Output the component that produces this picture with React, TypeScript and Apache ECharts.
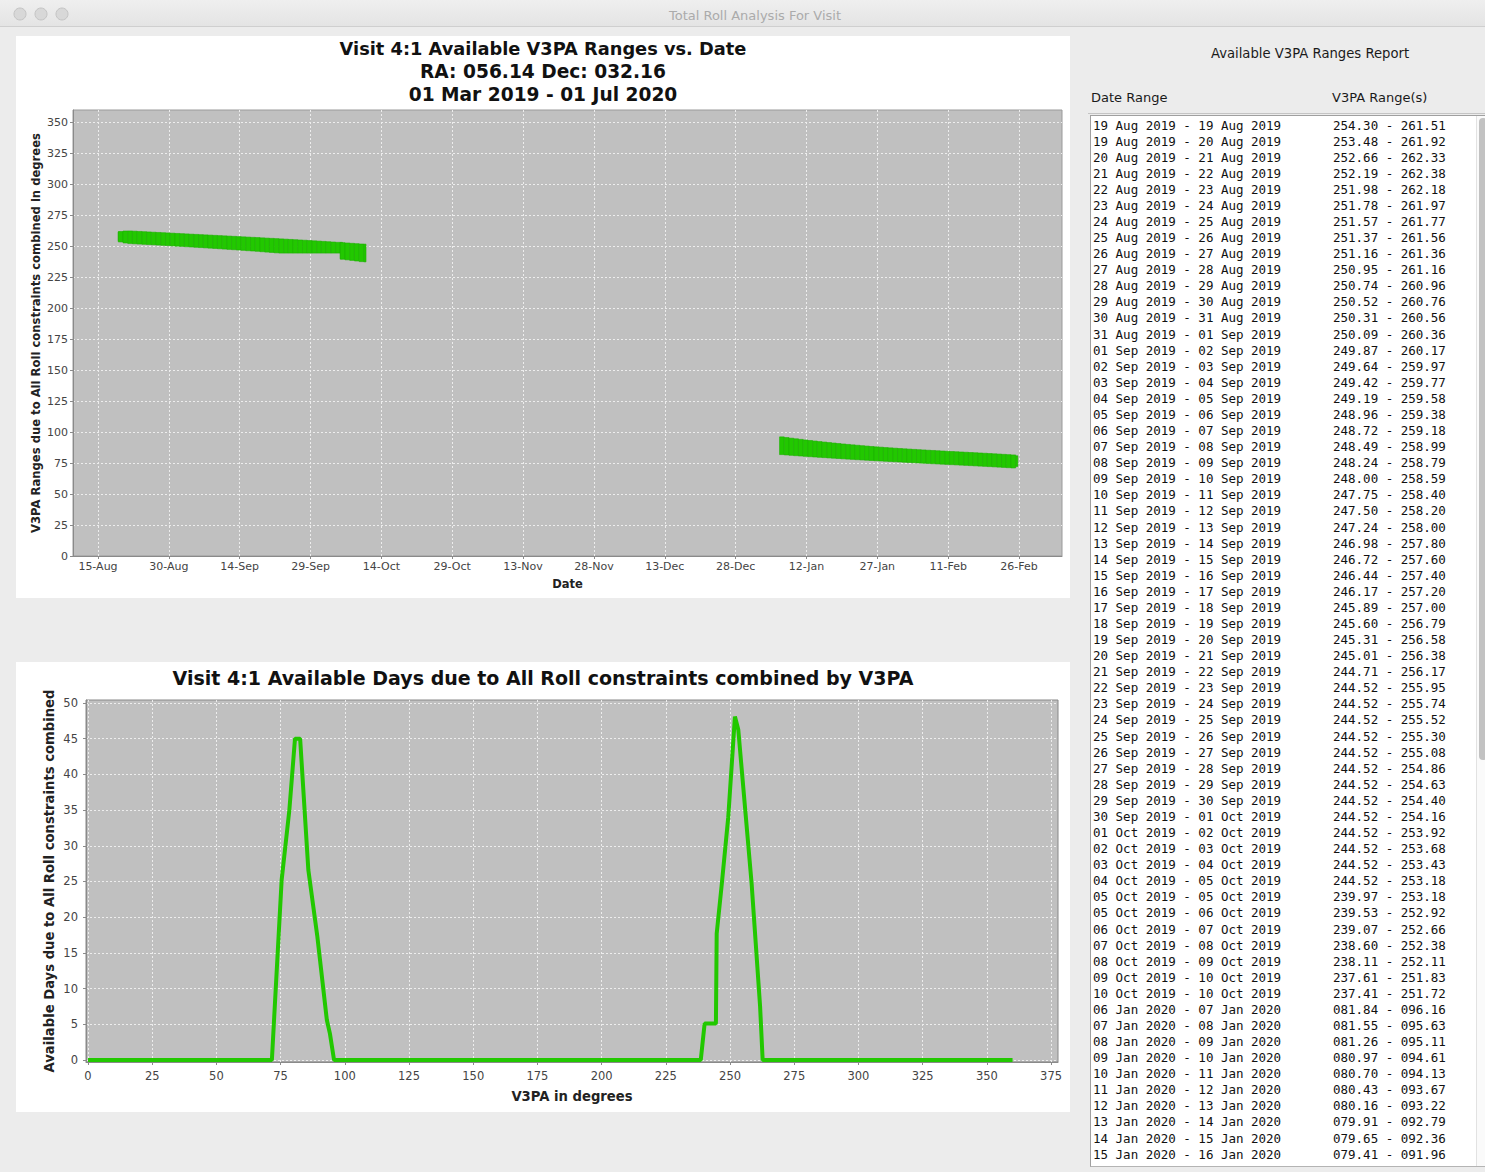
import React, { useEffect, useRef } from "react";
import * as echarts from "echarts";

const W = 1485;
const H = 1172;
const MONTHS = ["Jan", "Feb", "Mar", "Apr", "May", "Jun", "Jul", "Aug", "Sep", "Oct", "Nov", "Dec"];

// ---------- data: Available V3PA ranges per date window ----------
const rangeStart: string[] = [
  "19 Aug 2019", "19 Aug 2019", "20 Aug 2019", "21 Aug 2019", "22 Aug 2019", "23 Aug 2019", "24 Aug 2019",
  "25 Aug 2019", "26 Aug 2019", "27 Aug 2019", "28 Aug 2019", "29 Aug 2019", "30 Aug 2019", "31 Aug 2019",
  "01 Sep 2019", "02 Sep 2019", "03 Sep 2019", "04 Sep 2019", "05 Sep 2019", "06 Sep 2019", "07 Sep 2019",
  "08 Sep 2019", "09 Sep 2019", "10 Sep 2019", "11 Sep 2019", "12 Sep 2019", "13 Sep 2019", "14 Sep 2019",
  "15 Sep 2019", "16 Sep 2019", "17 Sep 2019", "18 Sep 2019", "19 Sep 2019", "20 Sep 2019", "21 Sep 2019",
  "22 Sep 2019", "23 Sep 2019", "24 Sep 2019", "25 Sep 2019", "26 Sep 2019", "27 Sep 2019", "28 Sep 2019",
  "29 Sep 2019", "30 Sep 2019", "01 Oct 2019", "02 Oct 2019", "03 Oct 2019", "04 Oct 2019", "05 Oct 2019",
  "05 Oct 2019", "06 Oct 2019", "07 Oct 2019", "08 Oct 2019", "09 Oct 2019", "10 Oct 2019",
  "06 Jan 2020", "07 Jan 2020", "08 Jan 2020", "09 Jan 2020", "10 Jan 2020", "11 Jan 2020", "12 Jan 2020",
  "13 Jan 2020", "14 Jan 2020", "15 Jan 2020", "16 Jan 2020", "17 Jan 2020", "18 Jan 2020", "19 Jan 2020",
  "20 Jan 2020", "21 Jan 2020", "22 Jan 2020", "23 Jan 2020", "24 Jan 2020", "25 Jan 2020", "26 Jan 2020",
  "27 Jan 2020", "28 Jan 2020", "29 Jan 2020", "30 Jan 2020", "31 Jan 2020", "01 Feb 2020", "02 Feb 2020",
  "03 Feb 2020", "04 Feb 2020", "05 Feb 2020", "06 Feb 2020", "07 Feb 2020", "08 Feb 2020", "09 Feb 2020",
  "10 Feb 2020", "11 Feb 2020", "12 Feb 2020", "13 Feb 2020", "14 Feb 2020", "15 Feb 2020", "16 Feb 2020",
  "17 Feb 2020", "18 Feb 2020", "19 Feb 2020", "20 Feb 2020", "21 Feb 2020", "22 Feb 2020", "23 Feb 2020",
  "24 Feb 2020", "25 Feb 2020",
];
const rangeEnd: string[] = [
  "19 Aug 2019", "20 Aug 2019", "21 Aug 2019", "22 Aug 2019", "23 Aug 2019", "24 Aug 2019", "25 Aug 2019",
  "26 Aug 2019", "27 Aug 2019", "28 Aug 2019", "29 Aug 2019", "30 Aug 2019", "31 Aug 2019", "01 Sep 2019",
  "02 Sep 2019", "03 Sep 2019", "04 Sep 2019", "05 Sep 2019", "06 Sep 2019", "07 Sep 2019", "08 Sep 2019",
  "09 Sep 2019", "10 Sep 2019", "11 Sep 2019", "12 Sep 2019", "13 Sep 2019", "14 Sep 2019", "15 Sep 2019",
  "16 Sep 2019", "17 Sep 2019", "18 Sep 2019", "19 Sep 2019", "20 Sep 2019", "21 Sep 2019", "22 Sep 2019",
  "23 Sep 2019", "24 Sep 2019", "25 Sep 2019", "26 Sep 2019", "27 Sep 2019", "28 Sep 2019", "29 Sep 2019",
  "30 Sep 2019", "01 Oct 2019", "02 Oct 2019", "03 Oct 2019", "04 Oct 2019", "05 Oct 2019", "05 Oct 2019",
  "06 Oct 2019", "07 Oct 2019", "08 Oct 2019", "09 Oct 2019", "10 Oct 2019", "10 Oct 2019",
  "07 Jan 2020", "08 Jan 2020", "09 Jan 2020", "10 Jan 2020", "11 Jan 2020", "12 Jan 2020", "13 Jan 2020",
  "14 Jan 2020", "15 Jan 2020", "16 Jan 2020", "17 Jan 2020", "18 Jan 2020", "19 Jan 2020", "20 Jan 2020",
  "21 Jan 2020", "22 Jan 2020", "23 Jan 2020", "24 Jan 2020", "25 Jan 2020", "26 Jan 2020", "27 Jan 2020",
  "28 Jan 2020", "29 Jan 2020", "30 Jan 2020", "31 Jan 2020", "01 Feb 2020", "02 Feb 2020", "03 Feb 2020",
  "04 Feb 2020", "05 Feb 2020", "06 Feb 2020", "07 Feb 2020", "08 Feb 2020", "09 Feb 2020", "10 Feb 2020",
  "11 Feb 2020", "12 Feb 2020", "13 Feb 2020", "14 Feb 2020", "15 Feb 2020", "16 Feb 2020", "17 Feb 2020",
  "18 Feb 2020", "19 Feb 2020", "20 Feb 2020", "21 Feb 2020", "22 Feb 2020", "23 Feb 2020", "24 Feb 2020",
  "25 Feb 2020", "25 Feb 2020",
];
const v3paLow: number[] = [
  254.30, 253.48, 252.66, 252.19, 251.98, 251.78, 251.57, 251.37, 251.16, 250.95, 250.74, 250.52, 250.31, 250.09,
  249.87, 249.64, 249.42, 249.19, 248.96, 248.72, 248.49, 248.24, 248.00, 247.75, 247.50, 247.24, 246.98, 246.72,
  246.44, 246.17, 245.89, 245.60, 245.31, 245.01, 244.71, 244.52, 244.52, 244.52, 244.52, 244.52, 244.52, 244.52,
  244.52, 244.52, 244.52, 244.52, 244.52, 244.52, 239.97, 239.53, 239.07, 238.60, 238.11, 237.61, 237.41,
  81.84, 81.55, 81.26, 80.97, 80.70, 80.43, 80.16, 79.91, 79.65, 79.41, 79.16, 78.92, 78.68, 78.44, 78.21,
  77.98, 77.75, 77.53, 77.31, 77.09, 76.88, 76.67, 76.46, 76.25, 76.05, 75.85, 75.65, 75.45, 75.25, 75.06,
  74.87, 74.68, 74.49, 74.30, 74.11, 73.92, 73.73, 73.54, 73.35, 73.16, 72.96, 72.76, 72.56, 72.36, 72.15,
  71.94, 71.73, 71.51, 71.29, 71.06, 72.31,
];
const v3paHigh: number[] = [
  261.51, 261.92, 262.33, 262.38, 262.18, 261.97, 261.77, 261.56, 261.36, 261.16, 260.96, 260.76, 260.56, 260.36,
  260.17, 259.97, 259.77, 259.58, 259.38, 259.18, 258.99, 258.79, 258.59, 258.40, 258.20, 258.00, 257.80, 257.60,
  257.40, 257.20, 257.00, 256.79, 256.58, 256.38, 256.17, 255.95, 255.74, 255.52, 255.30, 255.08, 254.86, 254.63,
  254.40, 254.16, 253.92, 253.68, 253.43, 253.18, 253.18, 252.92, 252.66, 252.38, 252.11, 251.83, 251.72,
  96.16, 95.63, 95.11, 94.61, 94.13, 93.67, 93.22, 92.79, 92.36, 91.96, 91.56, 91.17, 90.79, 90.42, 90.06,
  89.71, 89.37, 89.04, 88.72, 88.41, 88.11, 87.82, 87.54, 87.27, 87.01, 86.76, 86.51, 86.27, 86.04, 85.81,
  85.59, 85.37, 85.16, 84.95, 84.74, 84.54, 84.34, 84.14, 83.94, 83.74, 83.54, 83.34, 83.13, 82.92, 82.71,
  82.49, 82.27, 82.04, 81.81, 81.57, 80.85,
];
const dateTickLabels: string[] = [
  "15 Aug 2019", "30 Aug 2019", "14 Sep 2019", "29 Sep 2019", "14 Oct 2019", "29 Oct 2019", "13 Nov 2019",
  "28 Nov 2019", "13 Dec 2019", "28 Dec 2019", "12 Jan 2020", "27 Jan 2020", "11 Feb 2020", "26 Feb 2020",
];
const rangeTicks: number[] = [0, 25, 50, 75, 100, 125, 150, 175, 200, 225, 250, 275, 300, 325, 350];

// ---------- data: available days by V3PA ----------
const v3paDeg: number[] = [0, 71.6, 75.4, 78.4, 80.6, 82.6, 85.8, 89.3, 93.0, 94.2, 95.8,
  238.6, 240.1, 244.5, 244.8, 246.8, 249.3, 251.9, 253.2, 258.4, 261.7, 262.7, 360];
const availDays: number[] = [0, 0, 25.2, 35.0, 45.0, 45.0, 26.6, 17.3, 5.6, 3.7, 0,
  0, 5.1, 5.1, 17.7, 24.7, 34.0, 48.1, 46.3, 24.7, 7.5, 0, 0];
const degTicks: number[] = [0, 25, 50, 75, 100, 125, 150, 175, 200, 225, 250, 275, 300, 325, 350, 375];
const dayTicks: number[] = [0, 5, 10, 15, 20, 25, 30, 35, 40, 45, 50];

const toDay = (s: string) => {
  const [d, m, y] = s.split(" ");
  return Date.UTC(+y, MONTHS.indexOf(m), +d) / 86400000;
};
const fmtDay = (v: number) => {
  const dt = new Date(Math.round(v) * 86400000);
  return String(dt.getUTCDate()).padStart(2, "0") + "-" + MONTHS[dt.getUTCMonth()];
};
const fmtV = (v: number) => v.toFixed(2).padStart(6, "0");

const SANS = "DejaVu Sans";
const MONO = "DejaVu Sans Mono";
const GREEN = "#22c800";

function buildOption(): any {
  const dateTickDays = dateTickLabels.map(toDay);
  const xMin = toDay("15 Aug 2019") - 5.29;
  const xMax = toDay("26 Feb 2020") + 9.1;

  const rects = rangeStart.map((s, i) => {
    const a = toDay(s) + 0.3;
    let b = toDay(rangeEnd[i]) + 0.3;
    if (b <= a) b = a + 0.45;
    return [a, b, v3paLow[i], v3paHigh[i]];
  });

  const gridLine = { show: true, lineStyle: { color: "#ededed", type: [2, 2], width: 1 } };
  const axisLine = { show: true, onZero: false, lineStyle: { color: "#8a8a8a", width: 1 } };
  const tickStyle = { color: "#8a8a8a" };
  const lab = { color: "#444", fontFamily: SANS };

  const graphics: any[] = [];
  [20, 41, 62].forEach((cx) =>
    graphics.push({ type: "circle", shape: { cx, cy: 14, r: 6 }, style: { fill: "#d8d8d8", stroke: "#c4c4c4", lineWidth: 1 } })
  );
  const txt = (text: string, x: number, y: number, size: number, opts: any = {}) => ({
    type: "text",
    x,
    y,
    z: 5,
    style: {
      text,
      fontSize: size,
      fontFamily: opts.family ?? SANS,
      fontWeight: opts.weight ?? "normal",
      fill: opts.fill ?? "#111",
      textAlign: opts.align ?? "center",
      textVerticalAlign: "middle",
    },
  });
  graphics.push(txt("Total Roll Analysis For Visit", 755, 15, 13, { fill: "#ababab" }));
  graphics.push(txt("Visit 4:1 Available V3PA Ranges vs. Date", 543, 48, 17.8, { weight: "bold" }));
  graphics.push(txt("RA: 056.14 Dec: 032.16", 543, 71, 18.6, { weight: "bold" }));
  graphics.push(txt("01 Mar 2019 - 01 Jul 2020", 543, 94, 18.6, { weight: "bold" }));
  graphics.push(txt("Visit 4:1 Available Days due to All Roll constraints combined by V3PA", 543, 678, 19, { weight: "bold" }));
  graphics.push(txt("Available V3PA Ranges Report", 1310, 53, 13.2, { fill: "#1a1a1a" }));
  graphics.push(txt("Date Range", 1091, 97, 13, { fill: "#1a1a1a", align: "left" }));
  graphics.push(txt("V3PA Range(s)", 1332, 97, 13, { fill: "#1a1a1a", align: "left" }));

  // rows that fit fully inside the visible list box
  const visibleRows = 65;
  for (let i = 0; i < Math.min(visibleRows, rangeStart.length); i++) {
    const y = 125 + i * 16.08;
    graphics.push(txt(`${rangeStart[i]} - ${rangeEnd[i]}`, 1093, y, 12.5, { family: MONO, align: "left", fill: "#111" }));
    graphics.push(txt(`${fmtV(v3paLow[i])} - ${fmtV(v3paHigh[i])}`, 1333, y, 12.5, { family: MONO, align: "left", fill: "#111" }));
  }

  return {
    animation: false,
    backgroundColor: "transparent",
    graphic: { elements: graphics },
    grid: [
      { left: 73, top: 110, width: 989, height: 446, show: true, backgroundColor: "#c0c0c0", borderColor: "#9a9a9a", borderWidth: 1 },
      { left: 86, top: 700, width: 972, height: 362, show: true, backgroundColor: "#c0c0c0", borderColor: "#888", borderWidth: 1 },
    ],
    xAxis: [
      {
        type: "value",
        gridIndex: 0,
        min: xMin,
        max: xMax,
        name: "Date",
        nameLocation: "middle",
        nameGap: 22,
        nameMoveOverlap: false,
        nameTextStyle: { fontFamily: SANS, fontWeight: "bold", fontSize: 11.5, color: "#222" },
        axisLine,
        axisTick: { show: true, length: 3, customValues: dateTickDays, lineStyle: tickStyle },
        axisLabel: { ...lab, fontSize: 11, margin: 5, customValues: dateTickDays, formatter: (v: number) => fmtDay(v) },
        splitLine: gridLine,
      },
      {
        type: "value",
        gridIndex: 1,
        min: -0.78,
        max: 377.7,
        name: "V3PA in degrees",
        nameLocation: "middle",
        nameGap: 28,
        nameMoveOverlap: false,
        nameTextStyle: { fontFamily: SANS, fontWeight: "bold", fontSize: 13.2, color: "#222" },
        axisLine,
        axisTick: { show: true, length: 3, customValues: degTicks, lineStyle: tickStyle },
        axisLabel: { ...lab, fontSize: 11.5, margin: 8, customValues: degTicks },
        splitLine: gridLine,
      },
    ],
    yAxis: [
      {
        type: "value",
        gridIndex: 0,
        min: 0,
        max: 360,
        name: "V3PA Ranges due to All Roll constraints combined in degrees",
        nameLocation: "middle",
        nameRotate: 90,
        nameGap: 31,
        nameMoveOverlap: false,
        nameTextStyle: { fontFamily: SANS, fontWeight: "bold", fontSize: 11.6, color: "#222" },
        axisLine,
        axisTick: { show: true, length: 3, customValues: rangeTicks, lineStyle: tickStyle },
        axisLabel: { ...lab, fontSize: 11, margin: 5, customValues: rangeTicks },
        splitLine: gridLine,
      },
      {
        type: "value",
        gridIndex: 1,
        min: -0.28,
        max: 50.42,
        name: "Available Days due to All Roll constraints combined",
        nameLocation: "middle",
        nameRotate: 90,
        nameGap: 30,
        nameMoveOverlap: false,
        nameTextStyle: { fontFamily: SANS, fontWeight: "bold", fontSize: 13.2, color: "#222" },
        axisLine,
        axisTick: { show: true, length: 3, customValues: dayTicks, lineStyle: tickStyle },
        axisLabel: { ...lab, fontSize: 11.5, margin: 8, customValues: dayTicks },
        splitLine: gridLine,
      },
    ],
    series: [
      {
        type: "custom",
        name: "V3PA range",
        xAxisIndex: 0,
        yAxisIndex: 0,
        clip: true,
        encode: { x: [0, 1], y: [2, 3] },
        data: rects,
        renderItem: (params: any, api: any) => {
          const p0 = api.coord([api.value(0), api.value(3)]);
          const p1 = api.coord([api.value(1), api.value(2)]);
          return {
            type: "rect",
            shape: { x: p0[0], y: p0[1], width: p1[0] - p0[0], height: p1[1] - p0[1] },
            style: { fill: GREEN, stroke: "#1cb000", lineWidth: 0.6 },
          };
        },
      },
      {
        type: "line",
        name: "Available days",
        xAxisIndex: 1,
        yAxisIndex: 1,
        data: v3paDeg.map((x, i) => [x, availDays[i]]),
        symbol: "none",
        showSymbol: false,
        clip: true,
        lineStyle: { color: GREEN, width: 4 },
        itemStyle: { color: GREEN },
      },
    ],
  };
}

export default function App() {
  const ref = useRef<HTMLDivElement>(null);
  useEffect(() => {
    if (!ref.current) return;
    const chart = echarts.init(ref.current, undefined, { renderer: "svg" });
    chart.setOption(buildOption());
    return () => chart.dispose();
  }, []);
  const abs = (s: any) => ({ position: "absolute" as const, ...s });
  return (
    <div style={{ position: "fixed", left: 0, top: 0, width: W, height: H, background: "#ececec", overflow: "hidden" }}>
      <div style={abs({ left: 0, top: 0, width: W, height: 26, background: "linear-gradient(#efefef, #e4e4e4)", borderBottom: "1px solid #cfcfcf" })} />
      <div style={abs({ left: 16, top: 36, width: 1054, height: 562, background: "#fff" })} />
      <div style={abs({ left: 16, top: 662, width: 1054, height: 450, background: "#fff" })} />
      <div style={abs({ left: 1088, top: 113, width: 397, height: 1, background: "#c4c4c4" })} />
      <div style={abs({ left: 1090, top: 115, width: 395, height: 1052, background: "#fff", borderLeft: "1px solid #a0a0a0", borderTop: "1px solid #a0a0a0", borderBottom: "1px solid #b4b4b4", boxSizing: "border-box" })} />
      <div style={abs({ left: 1476, top: 116, width: 9, height: 1050, background: "#fafafa", borderLeft: "1px solid #e2e2e2", boxSizing: "border-box" })} />
      <div style={abs({ left: 1479, top: 118, width: 8, height: 642, background: "#c2c2c2", borderRadius: 4 })} />
      <div ref={ref} style={abs({ left: 0, top: 0, width: W, height: H })} />
    </div>
  );
}
